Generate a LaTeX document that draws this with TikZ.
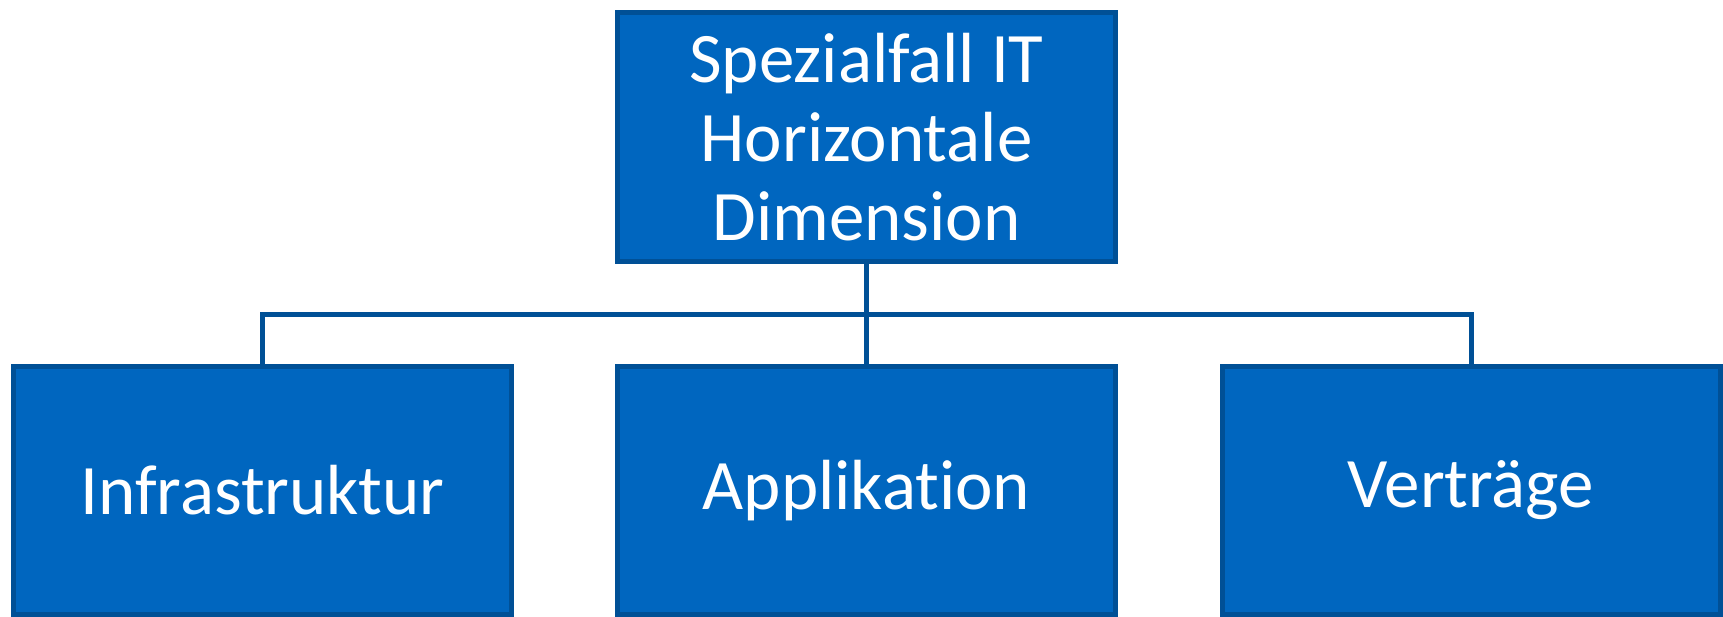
\documentclass[tikz,border=0pt]{standalone}
\usepackage{fontspec}
\setmainfont[Ligatures={NoCommon}]{Carlito}
\definecolor{boxfill}{RGB}{0,102,191}
\definecolor{boxline}{RGB}{0,80,150}
\begin{document}
\begin{tikzpicture}[x=1pt,y=-1pt,
  orgbox/.style={draw=boxline,fill=boxfill,line width=5pt,text=white,
    minimum width=498pt,minimum height=248pt,inner sep=0pt,align=center,
    font=\fontsize{71}{79}\selectfont},
  conn/.style={draw=boxline,line width=5pt}]
\useasboundingbox (0,0) rectangle (1723,617);
\node[orgbox,minimum height=249pt] (top) at (866.5,137) {Spezialfall IT\\Horizontale\\Dimension};
\node[orgbox] (a) at (262.5,490.5) {Infrastruktur};
\node[orgbox] (b) at (866.5,490.5) {Applikation};
\node[orgbox] (c) at (1471,490.5) {Verträge};
\coordinate (bus) at (866.5,314.5);
\draw[conn] (top.south) -- (b.north);
\draw[conn] (a.north) |- (bus) -| (c.north);
\end{tikzpicture}
\end{document}
